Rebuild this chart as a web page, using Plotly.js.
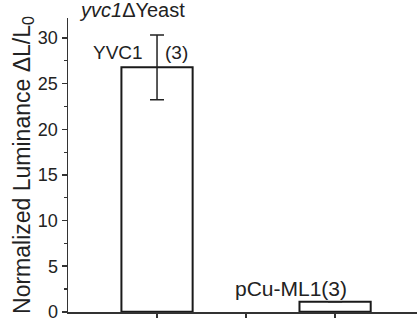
<!DOCTYPE html>
<html>
<head>
<meta charset="utf-8">
<script src="https://cdn.plot.ly/plotly-3.0.1.min.js"></script>
<style>html,body{margin:0;padding:0;background:#fff;}#chart{width:417px;height:322px;}</style>
</head>
<body>
<div id="chart"></div>
<script>
// Data
var positions = [1, 3];
var values = [26.8, 1.1];
var errors = [3.55, 0];
var barLabels = ["YVC1", "pCu-ML1(3)"];
var nLabel = "(3)";
var panelLabel = "<i>yvc1</i>\u0394Yeast";
var yTitle = "Normalized Luminance \u0394L/L<sub>0</sub>";
var xTickVals = [1, 2, 3];

var txt = '#222';
var font = {family: 'Liberation Sans, Arial, sans-serif', color: txt};

var trace = {
  type: 'bar',
  x: positions,
  y: values,
  width: 0.8,
  marker: {color: '#ffffff', line: {color: '#1a1a1a', width: 2}},
  error_y: {type: 'data', array: errors, visible: true, color: '#222', thickness: 1.5, width: 7},
  hoverinfo: 'none'
};

var layout = {
  width: 417, height: 322,
  margin: {l: 68, r: 0, t: 18, b: 10, pad: 0},
  paper_bgcolor: '#fff', plot_bgcolor: '#fff',
  showlegend: false,
  font: Object.assign({size: 18}, font),
  xaxis: {
    range: [0, 3.92], tickvals: xTickVals, showticklabels: false,
    ticks: 'outside', ticklen: 4, tickwidth: 1.5, tickcolor: '#333',
    showline: true, linecolor: '#333', linewidth: 1.5,
    showgrid: false, zeroline: false, fixedrange: true
  },
  yaxis: {
    range: [-0.02, 32.2], tickmode: 'linear', tick0: 0, dtick: 5,
    ticks: 'outside', ticklen: 5, tickwidth: 1.5, tickcolor: '#333',
    minor: {dtick: 2.5, ticks: 'outside', ticklen: 3, tickwidth: 1.2, tickcolor: '#333', showgrid: false},
    tickfont: Object.assign({size: 18}, font),
    ticklabeloverflow: 'allow',
    showline: true, linecolor: '#333', linewidth: 1.5,
    showgrid: false, zeroline: false,
    title: {text: yTitle, font: Object.assign({size: 23}, font), standoff: 1}
  },
  annotations: [
    {text: barLabels[0], x: 0.556, y: 28.4, xref: 'x', yref: 'y', showarrow: false, font: Object.assign({size: 19}, font)},
    {text: nLabel, x: 1.22, y: 28.4, xref: 'x', yref: 'y', showarrow: false, font: Object.assign({size: 19}, font)},
    {text: panelLabel, x: 0.1, xanchor: 'left', y: 1.0, xref: 'x', yref: 'paper', yanchor: 'bottom', yshift: -5, showarrow: false, font: Object.assign({size: 20}, font)},
    {text: barLabels[1], x: 2.5, y: 2.6, xref: 'x', yref: 'y', showarrow: false, font: Object.assign({size: 21}, font)}
  ]
};

Plotly.newPlot('chart', [trace], layout, {displayModeBar: false, staticPlot: true});
</script>
</body>
</html>
